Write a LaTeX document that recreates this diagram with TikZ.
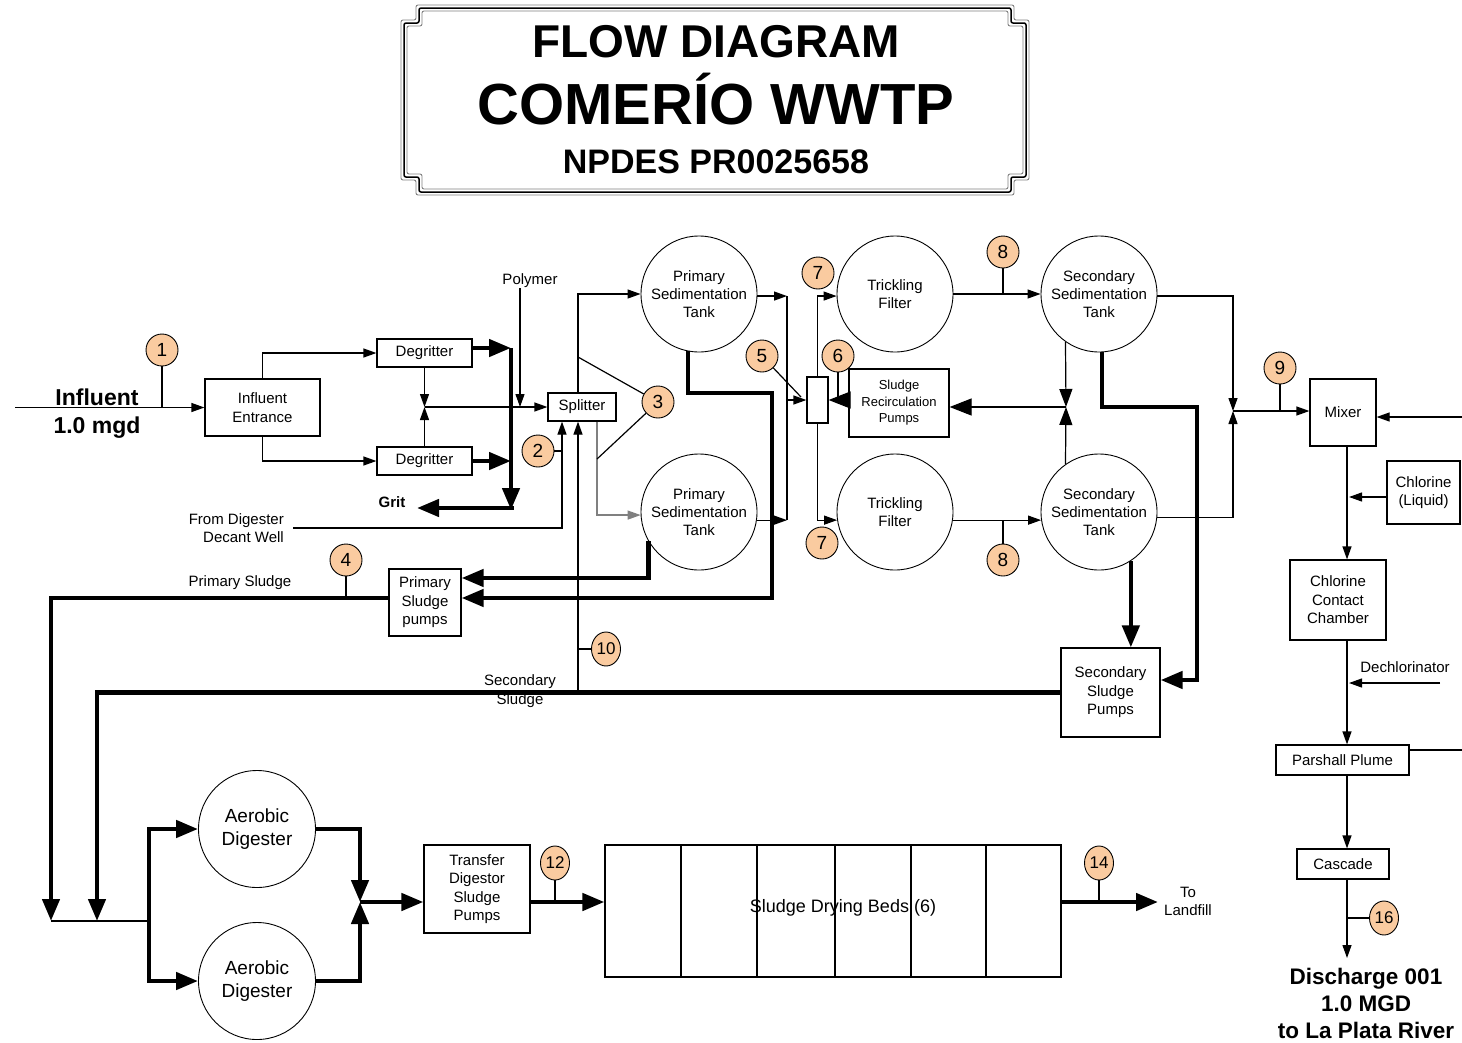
\documentclass[tikz,border=0pt]{standalone}
\usepackage{fontspec}
\setmainfont{Liberation Sans}
\usetikzlibrary{arrows.meta,shapes.geometric,calc}
\definecolor{peach}{RGB}{250,203,160}
\begin{document}
\begin{tikzpicture}[x=1pt,y=-1pt,
  ln/.style={line width=1.2pt},
  tk/.style={line width=4.5pt},
  arr/.style={-{Triangle[length=13pt,width=9pt]}},
  arrm/.style={-{Triangle[length=18pt,width=13pt]}},
  ab/.style={-{Triangle[length=22pt,width=17pt]}},
  box/.style={draw,line width=1.2pt,align=center,inner sep=0pt,font=\fontsize{15}{18.5}\selectfont},
  circ/.style={draw,circle,line width=0.9pt,align=center,inner sep=0pt,minimum size=116pt,font=\fontsize{15}{18}\selectfont},
  num/.style={draw,circle,fill=peach,line width=0.9pt,inner sep=0pt,minimum size=32pt,font=\fontsize{19}{19}\selectfont},
  numw/.style={draw,ellipse,fill=peach,line width=0.9pt,inner sep=0pt,minimum width=29pt,minimum height=34pt,font=\fontsize{17}{17}\selectfont},
  lbl/.style={align=center,inner sep=0pt,font=\fontsize{15}{18}\selectfont},
]
\useasboundingbox (0,0) rectangle (1462,1042);
\fill[white] (0,0) rectangle (1462,1042);

% ---------- title frame ----------
\foreach \d/\c/\w in {1/gray/0.9,4/black/1.5,7/gray/0.9}{
  \draw[\c,line width=\w pt,rounded corners=2pt]
   ({400+15+\d},{4+\d}) -- ({1030-15-\d},{4+\d}) -- ({1030-15-\d},{4+15+\d}) -- ({1030-\d},{4+15+\d})
   -- ({1030-\d},{196-15-\d}) -- ({1030-15-\d},{196-15-\d}) -- ({1030-15-\d},{196-\d})
   -- ({400+15+\d},{196-\d}) -- ({400+15+\d},{196-15-\d}) -- ({400+\d},{196-15-\d})
   -- ({400+\d},{4+15+\d}) -- ({400+15+\d},{4+15+\d}) -- cycle;
}
\node[anchor=base,inner sep=0,font=\bfseries\fontsize{46}{46}\selectfont] (t1) at (716,57) {FLOW DIAGRAM};
\node[anchor=base,inner sep=0,font=\bfseries\fontsize{58}{58}\selectfont] (t2) at (716,124) {COMERÍO WWTP};
\node[anchor=base,inner sep=0,font=\bfseries\fontsize{34}{34}\selectfont] (t3) at (716,173) {NPDES PR0025658};

% ---------- nodes ----------
\node[box,minimum width=115pt,minimum height=57pt] (ie) at (262.5,407.5) {Influent\\Entrance};
\node[box,minimum width=95pt,minimum height=28pt] (dg1) at (424.5,353) {Degritter};
\node[box,minimum width=95pt,minimum height=28pt] (dg2) at (424.5,461) {Degritter};
\node[box,minimum width=68pt,minimum height=28pt] (spl) at (582,407) {Splitter};
\node[circ] (pst1) at (699,294) {Primary\\Sedimentation\\Tank};
\node[circ] (pst2) at (699,512) {Primary\\Sedimentation\\Tank};
\node[draw,ln,minimum width=21pt,minimum height=46pt,inner sep=0pt] (fs) at (817.5,400) {};
\node[circ] (tf1) at (895,294) {Trickling\\Filter};
\node[circ] (tf2) at (895,512) {Trickling\\Filter};
\node[box,minimum width=100pt,minimum height=68pt,font=\fontsize{13}{16.5}\selectfont] (srp) at (899,403) {Sludge\\Recirculation\\Pumps};
\node[circ] (sst1) at (1099,294) {Secondary\\Sedimentation\\Tank};
\node[circ] (sst2) at (1099,512) {Secondary\\Sedimentation\\Tank};
\node[box,minimum width=66pt,minimum height=67pt] (mix) at (1343,412.5) {Mixer};
\node[box,minimum width=73pt,minimum height=63pt] (cl) at (1423.5,492.5) {Chlorine\\(Liquid)};
\node[box,minimum width=96pt,minimum height=80pt] (ccc) at (1338,600) {Chlorine\\Contact\\Chamber};
\node[box,minimum width=133pt,minimum height=30pt] (pp) at (1342.5,760) {Parshall Plume};
\node[box,minimum width=92pt,minimum height=30pt] (cas) at (1343,864) {Cascade};
\node[box,minimum width=72pt,minimum height=67pt] (psp) at (425,602.5) {Primary\\Sludge\\pumps};
\node[box,minimum width=99pt,minimum height=89pt] (ssp) at (1110.5,692.5) {Secondary\\Sludge\\Pumps};
\node[circ,minimum size=117pt,font=\fontsize{19}{22.5}\selectfont] (ad1) at (257,829) {Aerobic\\Digester};
\node[circ,minimum size=117pt,font=\fontsize{19}{22.5}\selectfont] (ad2) at (257,981) {Aerobic\\Digester};
\node[box,minimum width=106pt,minimum height=88pt] (tdsp) at (477,889) {Transfer\\Digestor\\Sludge\\Pumps};
\node[draw,ln,minimum width=456pt,minimum height=132pt,inner sep=0pt] (sdb) at (833,911) {};
\foreach \x in {681,757,835,911,986}{\draw[ln] (\x,845) -- (\x,977);}
\node[lbl,font=\fontsize{18}{18}\selectfont] (sdbt) at (843,908) {Sludge Drying Beds (6)};

% ---------- labels ----------
\node[anchor=base,inner sep=0,font=\bfseries\fontsize{23}{23}\selectfont] (inf1) at (97,405) {Influent};
\node[anchor=base,inner sep=0,font=\bfseries\fontsize{23}{23}\selectfont] (inf2) at (97,433) {1.0 mgd};
\node[lbl] (poly) at (530,281) {Polymer};
\node[lbl,font=\bfseries\fontsize{15}{18}\selectfont] (grit) at (392,502) {Grit};
\node[lbl,align=right,anchor=east] (dec) at (284,528) {From Digester\\Decant Well};
\node[lbl] (pslab) at (240,583) {Primary Sludge};
\node[lbl,font=\fontsize{15}{19}\selectfont] (sslab) at (520,691.5) {Secondary\\Sludge};
\node[lbl] (dech) at (1405,667) {Dechlorinator};
\node[lbl] (land) at (1188,901) {To\\Landfill};
\node[align=center,inner sep=0,font=\bfseries\fontsize{22.5}{27}\selectfont] (dis) at (1366,1003) {Discharge 001\\1.0 MGD\\to La Plata River};

% ---------- numbered balloons ----------
\node[num] (n1) at (162,350) {1};
\node[num] (n2) at (538,451) {2};
\node[num] (n3) at (658,402) {3};
\node[num] (n4) at (346,560) {4};
\node[num] (n5) at (762,356) {5};
\node[num] (n6) at (838,356) {6};
\node[num] (n7a) at (818,273) {7};
\node[num] (n7b) at (822,543) {7};
\node[num] (n8a) at (1003,252) {8};
\node[num] (n8b) at (1003,560) {8};
\node[num] (n9) at (1280,368) {9};
\node[numw] (n10) at (606,649) {10};
\node[numw] (n12) at (555,863) {12};
\node[numw] (n14) at (1099,863) {14};
\node[numw] (n16) at (1384,918) {16};

% ---------- coordinates ----------
\coordinate (infs) at (15,407.5);
\coordinate (j1) at (424.5,407);
\coordinate (g1) at (511,348);
\coordinate (g2) at (511,510);
\coordinate (g2b) at (513.5,508);
\coordinate (gt) at (417,508);
\coordinate (pj) at (520,407);
\coordinate (s10) at (578,692);
\coordinate (c3a) at (578,357);
\coordinate (c3b) at (597,459);
\coordinate (cv) at (787,400);
\coordinate (c5) at (801,397);
\coordinate (j2) at (1066,407);
\coordinate (j3) at (1233,411);
\coordinate (mr) at (1462,417);
\coordinate (clj) at (1349,497);
\coordinate (dj) at (1349,683);
\coordinate (ds) at (1440,683);
\coordinate (pr) at (1462,750);
\coordinate (dse) at (1347,958);
\coordinate (ya) at (0,578);
\coordinate (yb) at (0,598);
\coordinate (yc) at (0,680);
\coordinate (pk) at (772,393);
\coordinate (sk) at (1197,407);
\coordinate (dl1) at (51,921);
\coordinate (dl2) at (97,921);
\coordinate (hb) at (149,921);
\coordinate (aj) at (360,902);
\coordinate (lf) at (1158,902);

% ---------- connectors ----------
\draw[ln,arr] (infs) -- (ie.west);
\draw[ln] (n1.south) -- (n1.south |- infs);
\draw[ln,arr] (ie.north) |- (dg1.west);
\draw[ln,arr] (ie.south) |- (dg2.west);
\draw[ln,arr] (dg1.south) -- (j1);
\draw[ln,arr] (dg2.north) -- (j1);
\draw[ln,arr] (j1) -- (spl.west);
\draw[ln,arr] (poly.south -| pj) -- (pj);
\draw[tk,ab] (dg1.east |- g1) -- (g1);
\draw[tk,ab] (dg2.east) -- (dg2.east -| g1);
\draw[tk,ab] (g1) -- (g2);
\draw[tk,ab] (g2b) -- (gt);
\draw[ln,arr] ($(dec.east)+(9,0)$) -| ([xshift=-20pt]spl.south);
\draw[ln] (n2.east) -- ++(8,0);
\draw[ln,arr] (s10) -- ([xshift=-4pt]spl.south);
\draw[ln] (n10.west) -- ++(-13.5,0);
\draw[ln,arr] ([xshift=-4pt]spl.north) |- (pst1.west);
\draw[line width=1.2pt,gray,arr] ([xshift=15pt]spl.south) |- (pst2.183);
\draw[ln] (c3a) -- (n3);
\draw[ln] (c3b) -- (n3);
\draw[ln,arr] (pst1.358) -- (pst1.358 -| cv);
\draw[ln,arr] (pst2.352) -- (pst2.352 -| cv);
\draw[ln] (pst1.358 -| cv) -- (pst2.352 -| cv);
\draw[ln,arr] (cv) -- (fs.west);
\draw[ln] (c5) -- (n5);
\draw[ln,arr] (fs.north) |- (tf1.182);
\draw[ln,arr] (fs.south) |- (tf2.188);
\draw[ln,ab] (srp.west |- fs.east) -- (fs.east);
\draw[ln] (n6.south) -- (n6.south |- fs.east);
\draw[ln,arr] (tf1.east) -- (sst1.west);
\draw[ln] (n8a.south) -- (n8a.south |- tf1.east);
\draw[ln,arr] (tf2.352) -- (sst2.188);
\draw[ln] (n8b.north) -- (n8b.north |- tf2.352);
\draw[ln,arrm] (sst1.235) -- (j2);
\draw[ln,arrm] (sst2.125) -- (j2);
\draw[ln,ab] (j2) -- (j2 -| srp.east);
\draw[ln,arr] (sst1.358) -| (j3);
\draw[ln,arr] (sst2.355) -| (j3);
\draw[ln,arr] (j3) -- (j3 -| mix.west);
\draw[ln] (n9.south) -- (n9.south |- j3);
\draw[ln,arr] (mr) -- (mr -| mix.east);
\draw[ln,arr] ([xshift=4pt]mix.south) -- ([xshift=9pt]ccc.north);
\draw[ln,arr] (cl.west |- clj) -- (clj);
\draw[ln,arr] ([xshift=9pt]ccc.south) -- ([xshift=4.5pt]pp.north);
\draw[ln,arr] (ds) -- (dj);
\draw[ln] (pp.east |- pr) -- (pr);
\draw[ln,arr] ([xshift=4.5pt]pp.south) -- ([xshift=4pt]cas.north);
\draw[ln,arr] ([xshift=4pt]cas.south) -- (dse);
\draw[ln] (n16.west) -- (n16.west -| dse);
% primary sludge
\draw[tk,ab] (pst2.210) |- (psp.east |- ya);
\draw[tk,ab] (pst1.259) |- (pk) |- (psp.east |- yb);
\draw[tk,ab] (psp.west |- yb) -| (dl1);
\draw[ln] (n4.south) -- (n4.south |- yb);
% secondary sludge
\draw[tk,ab] (sst2.303) -- (sst2.303 |- ssp.north);
\draw[tk,ab] (sst1.273) |- (sk) |- (ssp.east |- yc);
\draw[tk,ab] (ssp.west) -| (dl2);
% digesters
\draw[ln] (dl1) -- (hb);
\draw[tk,ab] (hb) |- (ad1.west);
\draw[tk,ab] (hb) |- (ad2.west);
\draw[tk,ab] (ad1.east) -| (aj);
\draw[tk,ab] (ad2.east) -| (aj);
\draw[tk,ab] (aj) -- (tdsp.west |- aj);
\draw[tk,ab] (tdsp.east |- aj) -- (sdb.west |- aj);
\draw[ln] (n12.south) -- (n12.south |- aj);
\draw[tk,ab] (sdb.east |- aj) -- (lf);
\draw[ln] (n14.south) -- (n14.south |- aj);
\end{tikzpicture}
\end{document}
